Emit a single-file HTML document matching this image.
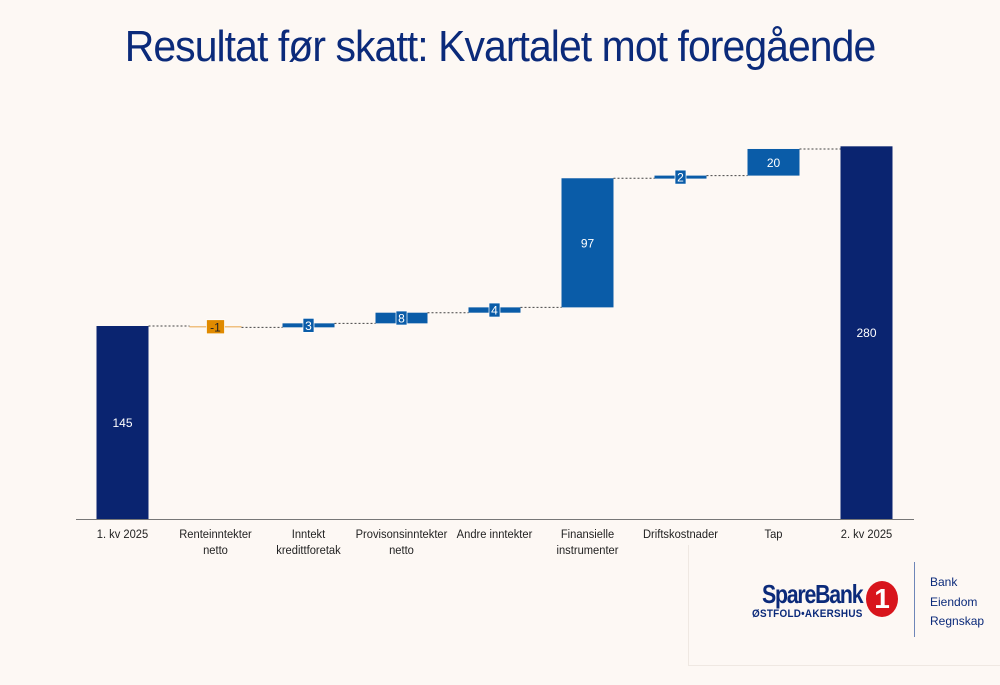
<!DOCTYPE html>
<html><head><meta charset="utf-8"><style>
body{margin:0;background:#fdf8f4;font-family:"Liberation Sans",sans-serif}
#wrap{position:relative;width:1000px;height:685px;overflow:hidden;background:#fdf8f4}
h1{position:absolute;top:22px;left:0;width:1000px;text-align:center;margin:0;font-weight:normal;font-size:44px;color:#0b2a7a;letter-spacing:-1px;transform:scaleX(0.93)}
</style></head><body>
<div id="wrap">
<h1>Resultat før skatt: Kvartalet mot foregående</h1>
<svg id="chart" width="1000" height="685" style="position:absolute;left:0;top:0"></svg>
<div style="position:absolute;left:688px;top:545px;width:312px;height:120px;border-left:1px solid #efe8e2;border-bottom:1px solid #efe8e2">
 <div style="position:absolute;left:73px;top:34px;font-size:26px;font-weight:bold;color:#0b2a7a;letter-spacing:-1.5px;transform:scaleX(0.82);transform-origin:left">SpareBank</div>
 <div style="position:absolute;left:63px;top:63px;font-size:11px;font-weight:bold;color:#0b2a7a;letter-spacing:0.3px;transform:scaleX(0.9);transform-origin:left">ØSTFOLD•AKERSHUS</div>
 <div style="position:absolute;left:177px;top:36px;width:32px;height:36px;border-radius:50%;background:#d8151c;color:#fff;font-weight:bold;font-size:28px;text-align:center;line-height:36px">1</div>
 <div style="position:absolute;left:225px;top:17px;width:1px;height:75px;background:#6e86b8"></div>
 <div style="position:absolute;left:241px;top:28px;font-size:12px;color:#0b2a7a;line-height:19.5px">Bank<br>Eiendom<br>Regnskap</div>
</div>
</div>
<script>
const categories=["1. kv 2025","Renteinntekter\nnetto","Inntekt\nkredittforetak","Provisonsinntekter\nnetto","Andre inntekter","Finansielle\ninstrumenter","Driftskostnader","Tap","2. kv 2025"];
const values=[145,-1,3,8,4,97,2,20,280];
const isTotal=[true,false,false,false,false,false,false,false,true];
const svg=document.getElementById('chart');
const NS='http://www.w3.org/2000/svg';
const x0=76,bandW=93,base=519,scale=1.331,barW=52;
const y=v=>base-v*scale;
const xc=i=>x0+bandW*(i+0.5);
function mk(t,a){const e=document.createElementNS(NS,t);for(const k in a)e.setAttribute(k,a[k]);svg.appendChild(e);return e;}
const ax=mk('line',{x1:76,x2:914,y1:519.5,y2:519.5,stroke:'#777','stroke-width':1});


let run=0,prevEnd=null;
values.forEach((v,i)=>{
 let a,b;
 if(isTotal[i]){a=0;b=v;run=v;}else{a=run;b=run+v;run=b;}
 const top=y(Math.max(a,b)),bot=y(Math.min(a,b));
 if(prevEnd!==null){const l=mk('line',{x1:xc(i-1)+barW/2,x2:xc(i)-barW/2,y1:y(prevEnd),y2:y(prevEnd),stroke:'#444','stroke-width':1,'stroke-dasharray':'2,2'});
  
  }
 prevEnd=isTotal[i]?v:b;
 const col=isTotal[i]?'#0a2470':(v<0?'#f0c080':'#0a5ca8');
 const h=Math.max(bot-top,v<0?1.5:3);
 const r=mk('rect',{x:xc(i)-barW/2,y:top,width:barW,height:h,fill:col});
 
 
 const mid=top+h/2;
 const txt=String(v);
 if(!isTotal[i]&&h<20){
  const bw=txt.length*7+4;
  const bx=mk('rect',{x:xc(i)-bw/2,y:mid-7,width:bw,height:14,fill:v<0?'#e08a00':'#0a5ca8',stroke:'#fff','stroke-width':0.7});
  
  
 }
 const t=mk('text',{x:xc(i),y:mid+4.5,'text-anchor':'middle','font-size':12,fill:v<0?'#222':'#fff','font-family':'Liberation Sans, sans-serif'});
 t.textContent=txt;
 
 
 categories[i].split('\n').forEach((ln,k)=>{
  const c=mk('text',{x:xc(i),y:538+k*16,'text-anchor':'middle','font-size':12,fill:'#222','font-family':'Liberation Sans, sans-serif',textLength:'',});
  c.removeAttribute('textLength');
  c.textContent=ln;
  c.setAttribute('transform','translate('+xc(i)+',0) scale(0.93,1) translate('+(-xc(i))+',0)');
  
  
 });
});
</script>
</body></html>
